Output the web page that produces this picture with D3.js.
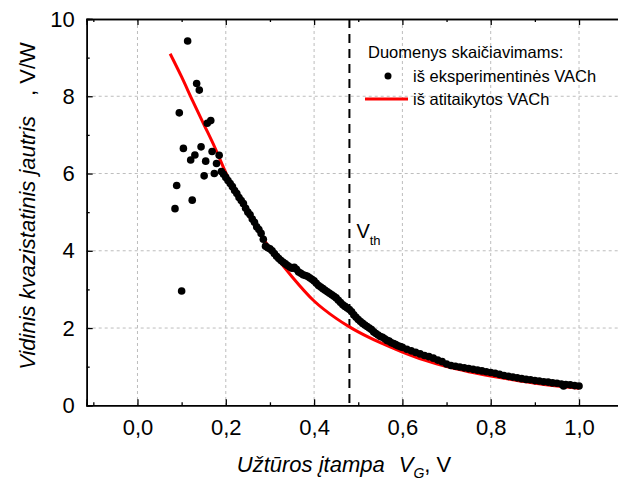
<!DOCTYPE html>
<html>
<head>
<meta charset="utf-8">
<script src="https://cdn.jsdelivr.net/npm/d3@7"></script>
<style>
    body { margin: 0; background: #fff; }
    #chart { width: 618px; height: 481px; }
    text { font-family: "Liberation Sans", Arial, sans-serif; }
</style>
</head>
<body>
<div id="chart"></div>
<script>
// experimental points (VG in V, sensitivity in V/W)
let expX = [0.085, 0.0888, 0.0947, 0.100, 0.104, 0.1136, 0.1205, 0.124, 0.130, 0.134, 0.140, 0.144, 0.151, 0.1545, 0.158,
    0.166, 0.169, 0.174, 0.179, 0.185,
    0.19, 0.195, 0.20, 0.205, 0.21, 0.215, 0.22, 0.225, 0.23, 0.235, 0.24, 0.245, 0.25, 0.255, 0.26, 0.265, 0.27, 0.275,
    0.28, 0.285, 0.29, 0.295, 0.30, 0.305, 0.31, 0.315, 0.32, 0.325, 0.33, 0.335, 0.34, 0.345, 0.35, 0.355, 0.36, 0.365,
    0.37, 0.375, 0.38, 0.385, 0.39, 0.395, 0.40, 0.405, 0.41, 0.415, 0.42, 0.425, 0.43, 0.435, 0.44, 0.445, 0.45, 0.455,
    0.46, 0.465, 0.47, 0.475, 0.48, 0.485, 0.49, 0.495, 0.50, 0.505, 0.51, 0.515, 0.52, 0.525, 0.53, 0.535, 0.54, 0.545,
    0.55, 0.555, 0.56, 0.565, 0.57, 0.575, 0.58, 0.585, 0.59, 0.595, 0.60, 0.61, 0.62, 0.63, 0.64, 0.65, 0.66, 0.67,
    0.68, 0.69, 0.70, 0.71, 0.72, 0.73, 0.74, 0.75, 0.76, 0.77, 0.78, 0.79, 0.80, 0.81, 0.82, 0.83, 0.84, 0.85, 0.86,
    0.87, 0.88, 0.89, 0.90, 0.91, 0.92, 0.93, 0.94, 0.95, 0.96, 0.965, 0.97, 0.98, 0.99, 1.00];
let expY = [5.09, 5.69, 7.57, 2.96, 6.65, 9.43, 6.35, 5.31, 6.48, 8.33, 8.16, 6.69, 5.94, 6.32, 7.30,
    7.37, 6.57, 6.00, 6.26, 6.47,
    6.05, 5.98, 5.90, 5.82, 5.74, 5.66, 5.56, 5.48, 5.38, 5.30, 5.22, 5.10, 5.00, 4.93, 4.82, 4.74, 4.62, 4.55,
    4.45, 4.30, 4.12, 4.08, 4.05, 4.00, 3.93, 3.86, 3.80, 3.75, 3.70, 3.66, 3.62, 3.58, 3.55, 3.57, 3.52, 3.45,
    3.42, 3.38, 3.36, 3.34, 3.30, 3.26, 3.22, 3.16, 3.10, 3.06, 3.02, 2.98, 2.94, 2.90, 2.86, 2.82, 2.78, 2.72,
    2.66, 2.60, 2.56, 2.52, 2.48, 2.42, 2.34, 2.28, 2.22, 2.17, 2.12, 2.08, 2.04, 2.00, 1.96, 1.90, 1.86, 1.82,
    1.78, 1.76, 1.72, 1.68, 1.66, 1.62, 1.60, 1.57, 1.54, 1.52, 1.50, 1.45, 1.41, 1.37, 1.33, 1.29, 1.26, 1.22,
    1.17, 1.13, 1.07, 1.03, 1.01, 0.99, 0.97, 0.95, 0.93, 0.91, 0.89, 0.87, 0.85, 0.83, 0.80, 0.77, 0.75, 0.73, 0.71,
    0.69, 0.67, 0.66, 0.64, 0.63, 0.61, 0.60, 0.58, 0.57, 0.55, 0.50, 0.54, 0.53, 0.51, 0.50];

// fitted curve
let fitX = [0.074, 0.10, 0.125, 0.15, 0.175, 0.20, 0.225, 0.25, 0.275, 0.30, 0.35, 0.40, 0.45, 0.48, 0.50, 0.55,
    0.60, 0.65, 0.70, 0.75, 0.80, 0.85, 0.90, 0.95, 1.00];
let fitY = [9.10, 8.50, 7.88, 7.28, 6.68, 6.02, 5.45, 4.95, 4.48, 4.06, 3.33, 2.70, 2.25, 2.03, 1.90, 1.62,
    1.38, 1.17, 1.00, 0.87, 0.76, 0.66, 0.57, 0.50, 0.44];

let xTicks = [0.0, 0.2, 0.4, 0.6, 0.8, 1.0];
let xMinor = [-0.1, 0.1, 0.3, 0.5, 0.7, 0.9];
let yTicks = [0, 2, 4, 6, 8, 10];
let yMinor = [1, 3, 5, 7, 9];
let vth = 0.48;

let legendTitle = "Duomenys skaičiavimams:";
let legendLabels = ["iš eksperimentinės VACh", "iš atitaikytos VACh"];

class SensitivityPlot {
    constructor(parentElement) {
        this.parentElement = parentElement;
        this.initVis();
    }

    initVis() {
        let vis = this;
        vis.margin = {top: 19, left: 86.7, bottom: 405.3};
        vis.width = 618;
        vis.height = 481;

        vis.svg = d3.select("#" + vis.parentElement).append("svg")
            .attr("width", vis.width)
            .attr("height", vis.height);

        vis.x = d3.scaleLinear().domain([-0.115, 1.115]).range([vis.margin.left, 629.8]);
        vis.y = d3.scaleLinear().domain([0, 10]).range([vis.margin.bottom, vis.margin.top]);

        vis.updateVis();
    }

    updateVis() {
        let vis = this;
        let x = vis.x, y = vis.y;
        let fmt = d => d3.format(".1f")(d).replace(".", ",");

        // grid
        vis.svg.append("g").selectAll("line").data(xTicks).enter().append("line")
            .attr("x1", d => x(d)).attr("x2", d => x(d))
            .attr("y1", y(10)).attr("y2", y(0))
            .attr("stroke", "#bdbdbd").attr("stroke-dasharray", "3,3");
        vis.svg.append("g").selectAll("line").data(yTicks.slice(1, 5)).enter().append("line")
            .attr("x1", x.range()[0]).attr("x2", x.range()[1])
            .attr("y1", d => y(d)).attr("y2", d => y(d))
            .attr("stroke", "#bdbdbd").attr("stroke-dasharray", "3,3");

        // axes, ticks inward
        let bottom = vis.svg.append("g").attr("transform", `translate(0, ${y(0)})`)
            .call(d3.axisBottom(x).tickValues(xTicks).tickSize(-6).tickPadding(14).tickFormat(fmt));
        bottom.append("g").call(d3.axisBottom(x).tickValues(xMinor).tickSize(-3).tickFormat(""));
        let top = vis.svg.append("g").attr("transform", `translate(0, ${y(10)})`)
            .call(d3.axisTop(x).tickValues(xTicks).tickSize(-6).tickFormat(""));
        top.append("g").call(d3.axisTop(x).tickValues(xMinor).tickSize(-3).tickFormat(""));
        let left = vis.svg.append("g").attr("transform", `translate(${x.range()[0]}, 0)`)
            .call(d3.axisLeft(y).tickValues(yTicks).tickSize(-6).tickPadding(12).tickFormat(d3.format("d")));
        left.append("g").call(d3.axisLeft(y).tickValues(yMinor).tickSize(-3).tickFormat(""));

        vis.svg.selectAll(".domain").attr("stroke", "#000").attr("stroke-width", 1.5);
        vis.svg.selectAll(".tick line").attr("stroke", "#000").attr("stroke-width", 1.3);
        vis.svg.selectAll(".tick text").attr("font-size", 22).attr("fill", "#000")
            .attr("font-family", "Liberation Sans, Arial, sans-serif");

        // Vth line
        vis.svg.append("line")
            .attr("x1", x(vth)).attr("x2", x(vth))
            .attr("y1", y(10)).attr("y2", y(0))
            .attr("stroke", "#000").attr("stroke-width", 2)
            .attr("stroke-dasharray", "9,6");
        let vt = vis.svg.append("text")
            .attr("x", x(vth) + 7).attr("y", 238)
            .attr("font-size", 20);
        vt.append("tspan").text("V");
        vt.append("tspan").attr("font-size", 13).attr("dy", 7).text("th");

        // fitted curve
        let fitData = fitX.map((d, i) => ({x: d, y: fitY[i]}));
        vis.svg.append("path")
            .datum(fitData)
            .attr("fill", "none")
            .attr("stroke", "#ff0000")
            .attr("stroke-width", 3)
            .attr("d", d3.line().x(d => x(d.x)).y(d => y(d.y)).curve(d3.curveMonotoneX));

        // experimental points
        let expData = expX.map((d, i) => ({x: d, y: expY[i]}));
        vis.svg.append("g").selectAll("circle").data(expData).enter().append("circle")
            .attr("cx", d => x(d.x))
            .attr("cy", d => y(d.y))
            .attr("r", 3.8)
            .attr("fill", "#000");

        // legend
        vis.svg.append("text").attr("x", 368).attr("y", 58).attr("font-size", 16.5).text(legendTitle);
        vis.svg.append("circle").attr("cx", 388).attr("cy", 76).attr("r", 3.5).attr("fill", "#000");
        vis.svg.append("text").attr("x", 413).attr("y", 82).attr("font-size", 16.5).text(legendLabels[0]);
        vis.svg.append("line").attr("x1", 365).attr("x2", 408).attr("y1", 99).attr("y2", 99)
            .attr("stroke", "#ff0000").attr("stroke-width", 3);
        vis.svg.append("text").attr("x", 413).attr("y", 105).attr("font-size", 16.5).text(legendLabels[1]);

        // axis titles
        let xt = vis.svg.append("text")
            .attr("x", 344).attr("y", 472)
            .attr("text-anchor", "middle")
            .attr("font-size", 22);
        xt.append("tspan").attr("font-style", "italic").text("Užtūros įtampa");
        xt.append("tspan").attr("font-style", "italic").attr("dx", 14).text("V");
        xt.append("tspan").attr("font-style", "italic").attr("font-size", 14).attr("dy", 6).text("G");
        xt.append("tspan").attr("dy", -6).text(", V");

        let yt = vis.svg.append("text")
            .attr("transform", "translate(35, 206) rotate(-90)")
            .attr("text-anchor", "middle")
            .attr("font-size", 22);
        yt.append("tspan").attr("font-style", "italic").text("Vidinis kvazistatinis jautris");
        yt.append("tspan").attr("dx", 20).text(", V/W");
    }
}

new SensitivityPlot("chart");
</script>
</body>
</html>
